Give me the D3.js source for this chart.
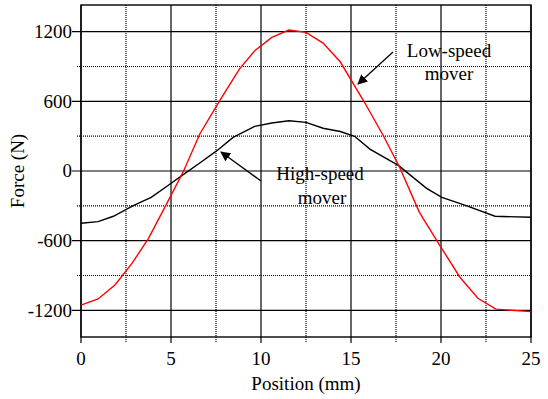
<!DOCTYPE html>
<html>
<head>
<meta charset="utf-8">
<script src="https://cdn.jsdelivr.net/npm/d3@7"></script>
<style>
  body { margin: 0; background: #fff; }
  svg text { font-family: "Liberation Serif", "Times New Roman", serif; fill: #000; }
</style>
</head>
<body>
<svg width="548" height="399"></svg>
<script>
// positions (mm) and force (N)
var lowPos   = [0, 0.95, 1.9, 2.85, 3.75, 4.8, 5.7, 6.6, 7.7, 8.8, 9.65, 10.6, 11.55, 12.5, 13.45, 14.4, 15.7, 16.8, 17.7, 18.8, 20.0, 21.05, 22.05, 23.05, 25];
var lowForce = [-1155, -1102, -980, -792, -580, -270, 0, 319, 605, 878, 1036, 1151, 1214, 1194, 1102, 941, 605, 304, 32, -356, -657, -915, -1096, -1190, -1211];

var highPos   = [0, 0.95, 1.8, 2.9, 3.9, 4.95, 5.6, 6.6, 7.55, 8.45, 9.65, 10.6, 11.55, 12.5, 13.45, 14.4, 15.2, 16.05, 17.65, 19.2, 20.05, 21.4, 23.0, 25];
var highForce = [-450, -436, -390, -299, -227, -112, -40, 69, 175, 290, 385, 413, 433, 419, 368, 340, 299, 189, 46, -150, -227, -299, -390, -399];

var xMajor = [0, 5, 10, 15, 20, 25];
var xMinor = [2.5, 7.5, 12.5, 17.5, 22.5];
var yMajor = [-1200, -600, 0, 600, 1200];
var yMinor = [-900, -300, 300, 900];

var svg = d3.select("svg");
var margin = {left: 81, right: 17, top: 5, bottom: 62};
var W = 548, H = 399;

var x = d3.scaleLinear().domain([0, 25]).range([margin.left, W - margin.right]);
var y = d3.scaleLinear().domain([-1430, 1430]).range([H - margin.bottom, margin.top]);

var g = svg.append("g");

// minor dotted grid
g.selectAll(".vmin").data(xMinor).enter().append("line")
  .attr("x1", d => x(d)).attr("x2", d => x(d))
  .attr("y1", y.range()[1]).attr("y2", y.range()[0] + 5)
  .attr("stroke", "#000").attr("stroke-width", 1.2).attr("stroke-dasharray", "1,1");
g.selectAll(".hmin").data(yMinor).enter().append("line")
  .attr("x1", x.range()[0] - 4).attr("x2", x.range()[1])
  .attr("y1", d => y(d)).attr("y2", d => y(d))
  .attr("stroke", "#000").attr("stroke-width", 1.2).attr("stroke-dasharray", "1,1");

// major solid grid
g.selectAll(".vmaj").data(xMajor).enter().append("line")
  .attr("x1", d => x(d)).attr("x2", d => x(d))
  .attr("y1", y.range()[1]).attr("y2", y.range()[0] + 6)
  .attr("stroke", "#000").attr("stroke-width", 1.2);
g.selectAll(".hmaj").data(yMajor).enter().append("line")
  .attr("x1", x.range()[0] - 9).attr("x2", x.range()[1])
  .attr("y1", d => y(d)).attr("y2", d => y(d))
  .attr("stroke", "#000").attr("stroke-width", 1.2);

// frame
g.append("rect")
  .attr("x", x.range()[0]).attr("y", y.range()[1])
  .attr("width", x.range()[1] - x.range()[0])
  .attr("height", y.range()[0] - y.range()[1])
  .attr("fill", "none").attr("stroke", "#000").attr("stroke-width", 1.4);

// tick labels
g.selectAll(".xl").data(xMajor).enter().append("text")
  .attr("x", d => x(d)).attr("y", 365)
  .attr("text-anchor", "middle").attr("font-size", 19)
  .text(d => d);
g.selectAll(".yl").data(yMajor).enter().append("text")
  .attr("x", 72).attr("y", d => y(d)).attr("dy", "0.33em")
  .attr("text-anchor", "end").attr("font-size", 19)
  .text(d => d);

// axis titles
svg.append("text").attr("x", (x.range()[0] + x.range()[1]) / 2).attr("y", 390)
  .attr("text-anchor", "middle").attr("font-size", 19).text("Position (mm)");
svg.append("text").attr("transform", "translate(24," + y(0) + ") rotate(-90)")
  .attr("text-anchor", "middle").attr("font-size", 19).text("Force (N)");

// curves
var line = d3.line().x(d => x(d[0])).y(d => y(d[1]));
g.append("path").datum(d3.zip(highPos, highForce))
  .attr("d", line).attr("fill", "none").attr("stroke", "#000").attr("stroke-width", 1.4);
g.append("path").datum(d3.zip(lowPos, lowForce))
  .attr("d", line).attr("fill", "none").attr("stroke", "#ff0000").attr("stroke-width", 1.4);

// arrows + annotations
svg.append("defs").append("marker")
  .attr("id", "arr").attr("viewBox", "0 0 10 10").attr("refX", 9).attr("refY", 5)
  .attr("markerWidth", 10).attr("markerHeight", 10).attr("markerUnits", "userSpaceOnUse")
  .attr("orient", "auto")
  .append("path").attr("d", "M0,0 L10,5 L0,10 Z").attr("fill", "#000");

svg.append("line").attr("x1", 393).attr("y1", 52).attr("x2", 358).attr("y2", 84)
  .attr("stroke", "#000").attr("stroke-width", 1.3).attr("marker-end", "url(#arr)");
svg.append("line").attr("x1", 261).attr("y1", 181).attr("x2", 221).attr("y2", 152)
  .attr("stroke", "#000").attr("stroke-width", 1.3).attr("marker-end", "url(#arr)");

var notes = [["Low-speed", 449, 57], ["mover", 449, 80], ["High-speed", 320, 180], ["mover", 322, 204]];
svg.selectAll(".note").data(notes).enter().append("text")
  .attr("x", d => d[1]).attr("y", d => d[2])
  .attr("text-anchor", "middle").attr("font-size", 19)
  .text(d => d[0]);
</script>
</body>
</html>
